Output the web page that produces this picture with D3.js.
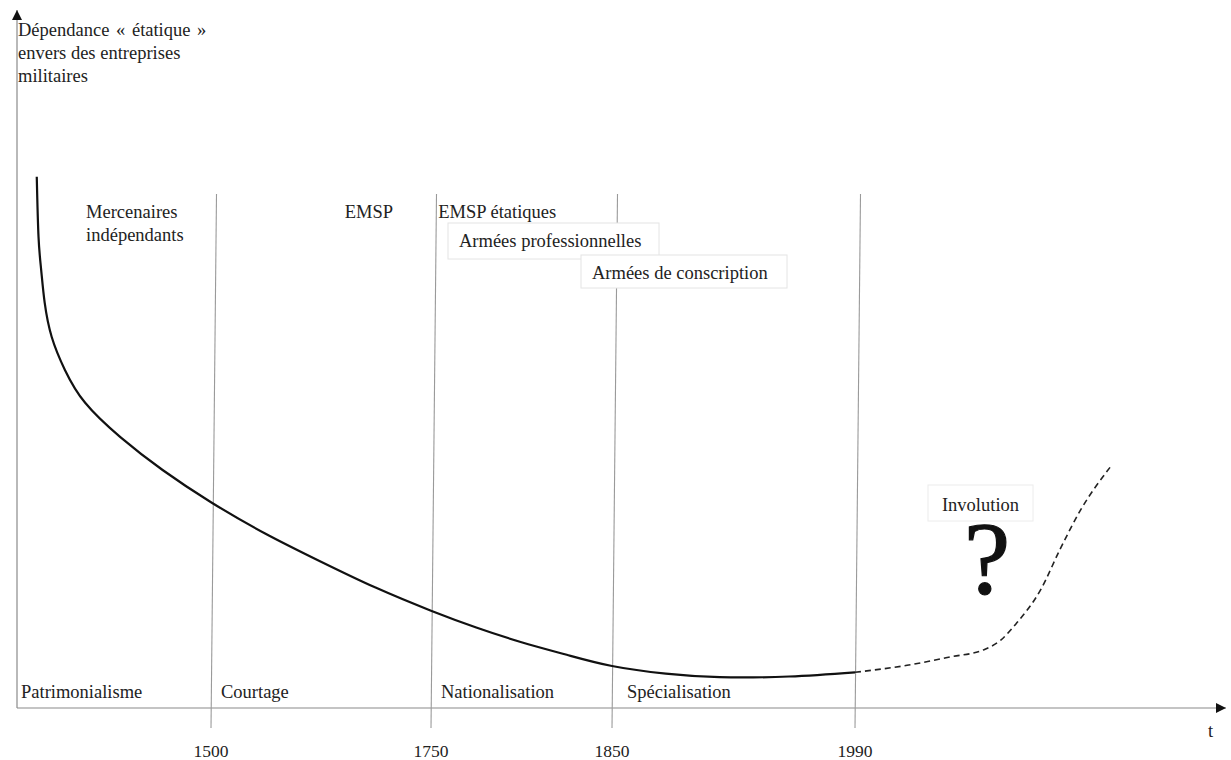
<!DOCTYPE html>
<html>
<head>
<meta charset="utf-8">
<script src="https://cdn.jsdelivr.net/npm/d3@7"></script>
<style>
  html, body { margin: 0; padding: 0; background: #fff; }
  svg { display: block; }
  text { font-family: "Liberation Serif", "Times New Roman", Tinos, "DejaVu Serif", serif; fill: #222; }
</style>
</head>
<body>
<svg id="chart" width="1231" height="760"></svg>
<script>
// ---- data ----
const tickYears = [1500, 1750, 1850, 1990];
const tickLabels = ["1500", "1750", "1850", "1990"];
const periodNames = ["Patrimonialisme", "Courtage", "Nationalisation", "Spécialisation"];
const periodStart = [1302, 1500, 1750, 1850];
// historical curve (year, dependence 0-100)
const histYears = [1302, 1304, 1307, 1311, 1319, 1334, 1357, 1397, 1445, 1500, 1562, 1625, 1687, 1750, 1775, 1800, 1825, 1850, 1881, 1912, 1952, 1990];
const histValues = [75.9, 67.3, 62.6, 57.9, 53.0, 48.3, 43.6, 38.7, 34.0, 29.4, 24.9, 20.9, 17.2, 13.9, 11.5, 9.4, 7.6, 6.0, 4.9, 4.4, 4.5, 5.1];
// hypothetical future (dashed)
const futYears = [1990, 2020, 2045, 2064, 2074, 2083, 2097, 2108, 2120, 2137];
const futValues = [5.1, 6.1, 7.3, 8.3, 9.7, 12.1, 16.9, 22.6, 28.3, 34.4];
const topLabels = ["Mercenaires|indépendants", "EMSP", "EMSP étatiques"];
const topLabelYears = [1358, 1652, 1754];
const boxLabels = ["Armées professionnelles", "Armées de conscription"];
const yTitle = ["Dépendance « étatique »", "envers des entreprises", "militaires"];

// ---- scales ----
const svg = d3.select("#chart");
const x = d3.scaleLinear().domain(tickYears).range([211, 431, 612, 855]);
const y = d3.scaleLinear().domain([0, 100]).range([708, 8]);
const axisColor = "#8a8a8a";
const FS = 18.5;

// arrow marker
const defs = svg.append("defs");
defs.append("marker").attr("id", "arr").attr("viewBox", "0 0 10 10")
  .attr("refX", 10).attr("refY", 5).attr("markerWidth", 10).attr("markerHeight", 10)
  .attr("markerUnits", "userSpaceOnUse").attr("orient", "auto")
  .append("path").attr("d", "M0,0 L10,5 L0,10 z").attr("fill", "#111");

// axes
svg.append("line").attr("x1", 17).attr("y1", y(0)).attr("x2", 17).attr("y2", 10)
  .attr("stroke", axisColor).attr("stroke-width", 1.2).attr("marker-end", "url(#arr)");
svg.append("line").attr("x1", 17).attr("y1", y(0)).attr("x2", 1226).attr("y2", y(0))
  .attr("stroke", axisColor).attr("stroke-width", 1.2).attr("marker-end", "url(#arr)");

// division lines (slightly slanted as in the drawing)
svg.selectAll("line.div").data(tickYears).join("line").attr("class", "div")
  .attr("x1", d => x(d) + 5.5).attr("y1", 194)
  .attr("x2", d => x(d)).attr("y2", y(0) + 20)
  .attr("stroke", "#9a9a9a").attr("stroke-width", 1.1);

// tick labels
svg.selectAll("text.tick").data(tickYears).join("text").attr("class", "tick")
  .attr("x", d => x(d)).attr("y", 757).attr("text-anchor", "middle")
  .attr("font-size", 17.5).text((d, i) => tickLabels[i]);
svg.append("text").attr("x", 1208).attr("y", 737).attr("font-size", FS).text("t");

// y title
svg.append("text").attr("x", 18).attr("y", 36).attr("font-size", FS)
  .selectAll("tspan").data(yTitle).join("tspan")
  .attr("x", 18).attr("dy", (d, i) => i === 0 ? 0 : 23)
  .attr("word-spacing", (d, i) => i === 0 ? 2 : 0).text(d => d);

// period names
svg.selectAll("text.period").data(periodNames).join("text").attr("class", "period")
  .attr("x", (d, i) => (i === 0 ? 21 : x(periodStart[i]) + 10 + (i === 3 ? 5 : 0)))
  .attr("y", 698).attr("font-size", FS).text(d => d);

// top labels
topLabels.forEach((lab, i) => {
  const t = svg.append("text").attr("x", x(topLabelYears[i])).attr("y", 218).attr("font-size", FS);
  lab.split("|").forEach((s, j) => t.append("tspan").attr("x", x(topLabelYears[i])).attr("dy", j ? 23 : 0).text(s));
});

// boxed labels
const boxes = [
  {x0: 448, y0: 223, w: 211, h: 36},
  {x0: 581, y0: 255, w: 206, h: 33}
];
boxLabels.forEach((lab, i) => {
  const b = boxes[i];
  svg.append("rect").attr("x", b.x0).attr("y", b.y0).attr("width", b.w).attr("height", b.h)
    .attr("fill", "#fff").attr("stroke", "#e4e4e4").attr("stroke-width", 1);
  svg.append("text").attr("x", b.x0 + 11).attr("y", b.y0 + 24).attr("font-size", FS).text(lab);
});

// curves
const line = d3.line().x(d => x(d[0])).y(d => y(d[1])).curve(d3.curveNatural);
svg.append("path").datum(histYears.map((d, i) => [d, histValues[i]]))
  .attr("d", line).attr("fill", "none").attr("stroke", "#111").attr("stroke-width", 2.2);
svg.append("path").datum(futYears.map((d, i) => [d, futValues[i]]))
  .attr("d", line.curve(d3.curveMonotoneX)).attr("fill", "none").attr("stroke", "#222").attr("stroke-width", 1.6)
  .attr("stroke-dasharray", "6,4");

// Involution box + question mark
svg.append("rect").attr("x", 928).attr("y", 485).attr("width", 105).attr("height", 36)
  .attr("fill", "#fff").attr("stroke", "#ececec");
svg.append("text").attr("x", 980.5).attr("y", 511).attr("text-anchor", "middle").attr("font-size", FS).text("Involution");
svg.append("text").attr("x", 987).attr("y", 594).attr("text-anchor", "middle").attr("font-size", 104)
  .style("fill", "#111").style("stroke", "#111").style("stroke-width", 1.2).text("?");
</script>
</body>
</html>
